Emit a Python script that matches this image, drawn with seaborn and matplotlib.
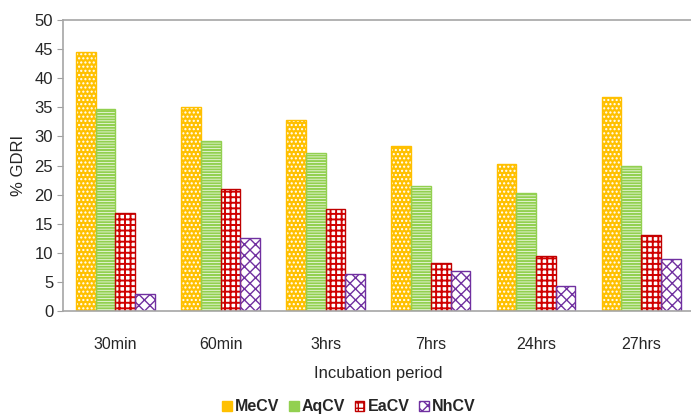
import matplotlib
matplotlib.use('Agg')
import matplotlib.pyplot as plt
from matplotlib.patches import Patch, Rectangle
import pandas as pd
import seaborn as sns

PERIODS = ['30min', '60min', '3hrs', '7hrs', '24hrs', '27hrs']
MECV = [44.5, 35.1, 32.9, 28.4, 25.3, 36.7]
AQCV = [34.7, 29.3, 27.2, 21.4, 20.3, 24.9]
EACV = [16.9, 21.0, 17.6, 8.2, 9.5, 13.1]
NHCV = [3.0, 12.5, 6.4, 6.9, 4.3, 8.9]
SERIES = ['MeCV', 'AqCV', 'EaCV', 'NhCV']

# face, hatch colour, outline, hatch pattern, hatch width
STYLES = {
    'MeCV': ('#FFC000', 'white', '#FFC000', '....', 1.0),
    'AqCV': ('#92D050', 'white', '#92D050', '------', 0.5),
    'EaCV': ('white', '#D00000', '#C00000', '+++', 1.4),
    'NhCV': ('white', '#7030A0', '#7030A0', 'xxx', 1.0),
}


def style_patch(p, name):
    face, hcol, edge, hatch, hlw = STYLES[name]
    p.set_facecolor(face)
    p.set_edgecolor(hcol)
    p.set_hatch(hatch)
    p.set_linewidth(0)
    if hasattr(p, 'set_hatch_linewidth'):
        p.set_hatch_linewidth(hlw)


def main():
    sns.set_style('white')
    plt.rcParams['font.family'] = ['Liberation Sans', 'DejaVu Sans']

    df = pd.DataFrame({
        'period': PERIODS * 4,
        'value': MECV + AQCV + EACV + NHCV,
        'series': [s for s in SERIES for _ in PERIODS],
    })

    fig = plt.figure(figsize=(6.91, 4.18), dpi=100)
    ax = fig.add_axes([0.091, 0.256, 0.913, 0.696])

    sns.barplot(df, x='period', y='value', hue='series', ax=ax,
                width=0.75, gap=0, legend=False, errorbar=None)

    for cont, name in zip(ax.containers, SERIES):
        for p in cont:
            style_patch(p, name)
            ax.add_patch(Rectangle(p.get_xy(), p.get_width(), p.get_height(),
                                   fill=False, edgecolor=STYLES[name][2], lw=1.0))

    ax.set_ylim(0, 50)
    ax.set_yticks(range(0, 51, 5))
    ax.set_xlim(-0.5, 5.5)
    ax.tick_params(axis='y', labelsize=12, length=4, width=0.8,
                   color='#A0A0A0', left=True, pad=3)
    ax.tick_params(axis='x', labelsize=11.5, length=0, pad=19)
    ax.set_xlabel('Incubation period', fontsize=12, labelpad=10)
    ax.set_ylabel('% GDRI', fontsize=12, labelpad=6)
    for side in ['left', 'bottom', 'top']:
        ax.spines[side].set_color('#A6A6A6')
        ax.spines[side].set_linewidth(1.2)
    ax.spines['right'].set_visible(False)

    handles = []
    for name in SERIES:
        face, hcol, edge, hatch, hlw = STYLES[name]
        handles.append(Patch(facecolor=face, edgecolor=edge, hatch=hatch, lw=1))
    fig.legend(handles, SERIES, loc='center', bbox_to_anchor=(0.505, 0.027),
               ncol=4, frameon=False, prop={'weight': 'bold', 'size': 11.5},
               handlelength=0.6, handleheight=0.6, handletextpad=0.2,
               columnspacing=0.6, borderaxespad=0)

    fig.savefig('out.png', dpi=100)


if __name__ == '__main__':
    main()
